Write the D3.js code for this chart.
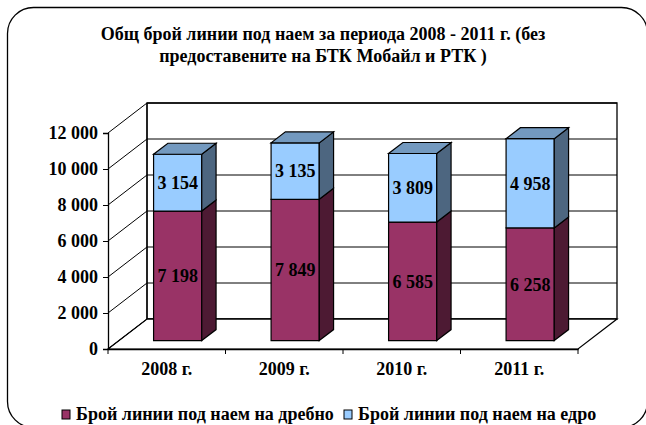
<!DOCTYPE html>
<html>
<head>
<meta charset="utf-8">
<script src="https://cdn.jsdelivr.net/npm/d3@7"></script>
</head>
<body style="margin:0;background:#fff">
<div id="chart"></div>
<script>
(function () {
    'use strict';

    var years = ['2008 г.', '2009 г.', '2010 г.', '2011 г.'],
        retail = [7198, 7849, 6585, 6258],
        wholesale = [3154, 3135, 3809, 4958],
        yTicks = [0, 2000, 4000, 6000, 8000, 10000, 12000],
        seriesNames = ['Брой линии под наем на дребно', 'Брой линии под наем на едро'],
        titleLines = ['Общ брой линии под наем за периода 2008 - 2011 г. (без',
            'предоставените на БТК Мобайл и РТК )'],

        width = 646,
        height = 425,
        font = '"Liberation Serif", "Times New Roman", Tinos',
        depthX = 39,
        depthY = 30,
        barFront = 0.28,
        barDepth = 0.367,

        colors = {
            retail: { front: '#993366', side: '#4d1a33', top: '#733d59' },
            wholesale: { front: '#99ccff', side: '#4d6680', top: '#7399bf' }
        },

        svg = d3.select('#chart')
            .append('svg')
            .attr('width', width)
            .attr('height', height),

        x = d3.scaleBand()
            .domain(years)
            .range([108, 578])
            .paddingInner(0.59)
            .paddingOuter(0.295),

        y = d3.scaleLinear()
            .domain([0, 12000])
            .range([349, 133]),

        fmt = function (v) {
            return d3.format(',')(v).replace(/,/g, ' ');
        },

        // point at a given depth fraction (0 = front, 1 = back wall)
        pt = function (px, py, f) {
            return [px + f * depthX, py - f * depthY];
        },

        poly = function (pts) {
            return 'M' + pts.map(function (p) { return p[0] + ',' + p[1]; }).join('L') + 'Z';
        },

        textStyle = function (sel, size) {
            sel.style('font-family', font)
                .style('font-weight', 'bold')
                .style('font-size', size + 'px')
                .style('fill', '#000');
        };

    // outer rounded frame
    svg.append('rect')
        .attr('x', 7.5)
        .attr('y', 7.5)
        .attr('width', 640)
        .attr('height', 420)
        .attr('rx', 26)
        .style('fill', '#fff')
        .style('stroke', '#000')
        .style('stroke-width', 1.3);

    // title
    svg.append('g')
        .selectAll('text')
        .data(titleLines)
        .join('text')
        .attr('x', 323)
        .attr('y', function (d, i) { return 40 + i * 22; })
        .attr('text-anchor', 'middle')
        .call(textStyle, 18)
        .text(function (d) { return d; });

    var x0 = x.range()[0],
        x1 = x.range()[1],
        yTop = y(12000),
        yBot = y(0),
        walls = svg.append('g');

    // back wall
    walls.append('path')
        .attr('d', poly([pt(x0, yBot, 1), pt(x1, yBot, 1), pt(x1, yTop, 1), pt(x0, yTop, 1)]))
        .style('fill', '#fff')
        .style('stroke', '#000')
        .style('stroke-width', 1.3);

    // floor
    walls.append('path')
        .attr('d', poly([[x0, yBot], [x1, yBot], pt(x1, yBot, 1), pt(x0, yBot, 1)]))
        .style('fill', '#fff')
        .style('stroke', '#000')
        .style('stroke-width', 1.2);

    // gridlines: diagonal on left wall, horizontal on back wall
    walls.selectAll('.grid')
        .data(yTicks)
        .join('path')
        .attr('class', 'grid')
        .attr('d', function (d) {
            var a = [x0, y(d)], b = pt(x0, y(d), 1), c = pt(x1, y(d), 1);
            return 'M' + a + 'L' + b + 'L' + c;
        })
        .style('fill', 'none')
        .style('stroke', '#000')
        .style('stroke-width', 1);

    // left wall back edge
    walls.append('line')
        .attr('x1', pt(x0, yBot, 1)[0])
        .attr('y1', pt(x0, yBot, 1)[1])
        .attr('x2', pt(x0, yTop, 1)[0])
        .attr('y2', pt(x0, yTop, 1)[1])
        .style('stroke', '#000')
        .style('stroke-width', 1.2);

    // y axis
    var yAxis = svg.append('g')
        .attr('transform', 'translate(' + x0 + ',0)')
        .call(d3.axisLeft(y).tickValues(yTicks).tickSize(5).tickPadding(5).tickFormat(fmt));
    yAxis.select('.domain').attr('stroke-width', 1.3);
    yAxis.selectAll('text').call(textStyle, 18);

    // x axis
    var xAxis = svg.append('g')
        .attr('transform', 'translate(0,' + yBot + ')')
        .call(d3.axisBottom(x).tickSize(0).tickPadding(13));
    xAxis.select('.domain').attr('stroke-width', 1.3);
    xAxis.selectAll('text').call(textStyle, 18);
    xAxis.selectAll('.sep')
        .data(d3.range(years.length + 1))
        .join('line')
        .attr('class', 'sep')
        .attr('x1', function (i) { return x0 + i * x.step(); })
        .attr('x2', function (i) { return x0 + i * x.step(); })
        .attr('y1', 0)
        .attr('y2', 5)
        .style('stroke', '#000');

    // stacked 3d bars
    var stacks = years.map(function (yr, i) {
        return [
            { key: 'retail', lo: 0, hi: retail[i], v: retail[i] },
            { key: 'wholesale', lo: retail[i], hi: retail[i] + wholesale[i], v: wholesale[i] }
        ];
    });

    var bars = svg.append('g');
    stacks.forEach(function (segs, i) {
        var bx = x(years[i]),
            bw = x.bandwidth(),
            g = bars.append('g');

        segs.forEach(function (s, j) {
            var c = colors[s.key],
                fl = pt(bx, y(s.lo), barFront),
                fr = pt(bx + bw, y(s.lo), barFront),
                tl = pt(bx, y(s.hi), barFront),
                tr = pt(bx + bw, y(s.hi), barFront),
                d = barDepth * depthX,
                e = barDepth * depthY;

            g.append('path')
                .attr('d', poly([fl, fr, tr, tl]))
                .style('fill', c.front)
                .style('stroke', '#000')
                .style('stroke-width', 1.2);
            g.append('path')
                .attr('d', poly([fr, [fr[0] + d, fr[1] - e], [tr[0] + d, tr[1] - e], tr]))
                .style('fill', c.side)
                .style('stroke', '#000')
                .style('stroke-width', 1.2);
            if (j === segs.length - 1) {
                g.append('path')
                    .attr('d', poly([tl, tr, [tr[0] + d, tr[1] - e], [tl[0] + d, tl[1] - e]]))
                    .style('fill', c.top)
                    .style('stroke', '#000')
                    .style('stroke-width', 1.2);
            }
            g.append('text')
                .attr('x', (fl[0] + fr[0]) / 2)
                .attr('y', (fl[1] + tl[1]) / 2)
                .attr('dy', '0.35em')
                .attr('text-anchor', 'middle')
                .call(textStyle, 18)
                .text(fmt(s.v));
        });
    });

    // legend
    var legendX = [62, 344],
        legend = svg.append('g')
            .selectAll('g')
            .data(seriesNames)
            .join('g')
            .attr('transform', function (d, i) { return 'translate(' + legendX[i] + ',410)'; });
    legend.append('rect')
        .attr('width', 8)
        .attr('height', 9)
        .style('fill', function (d, i) { return i === 0 ? colors.retail.front : colors.wholesale.front; })
        .style('stroke', '#000')
        .style('stroke-width', 1);
    legend.append('text')
        .attr('x', 14)
        .attr('y', 10)
        .call(textStyle, 18)
        .text(function (d) { return d; });
}());
</script>
</body>
</html>
